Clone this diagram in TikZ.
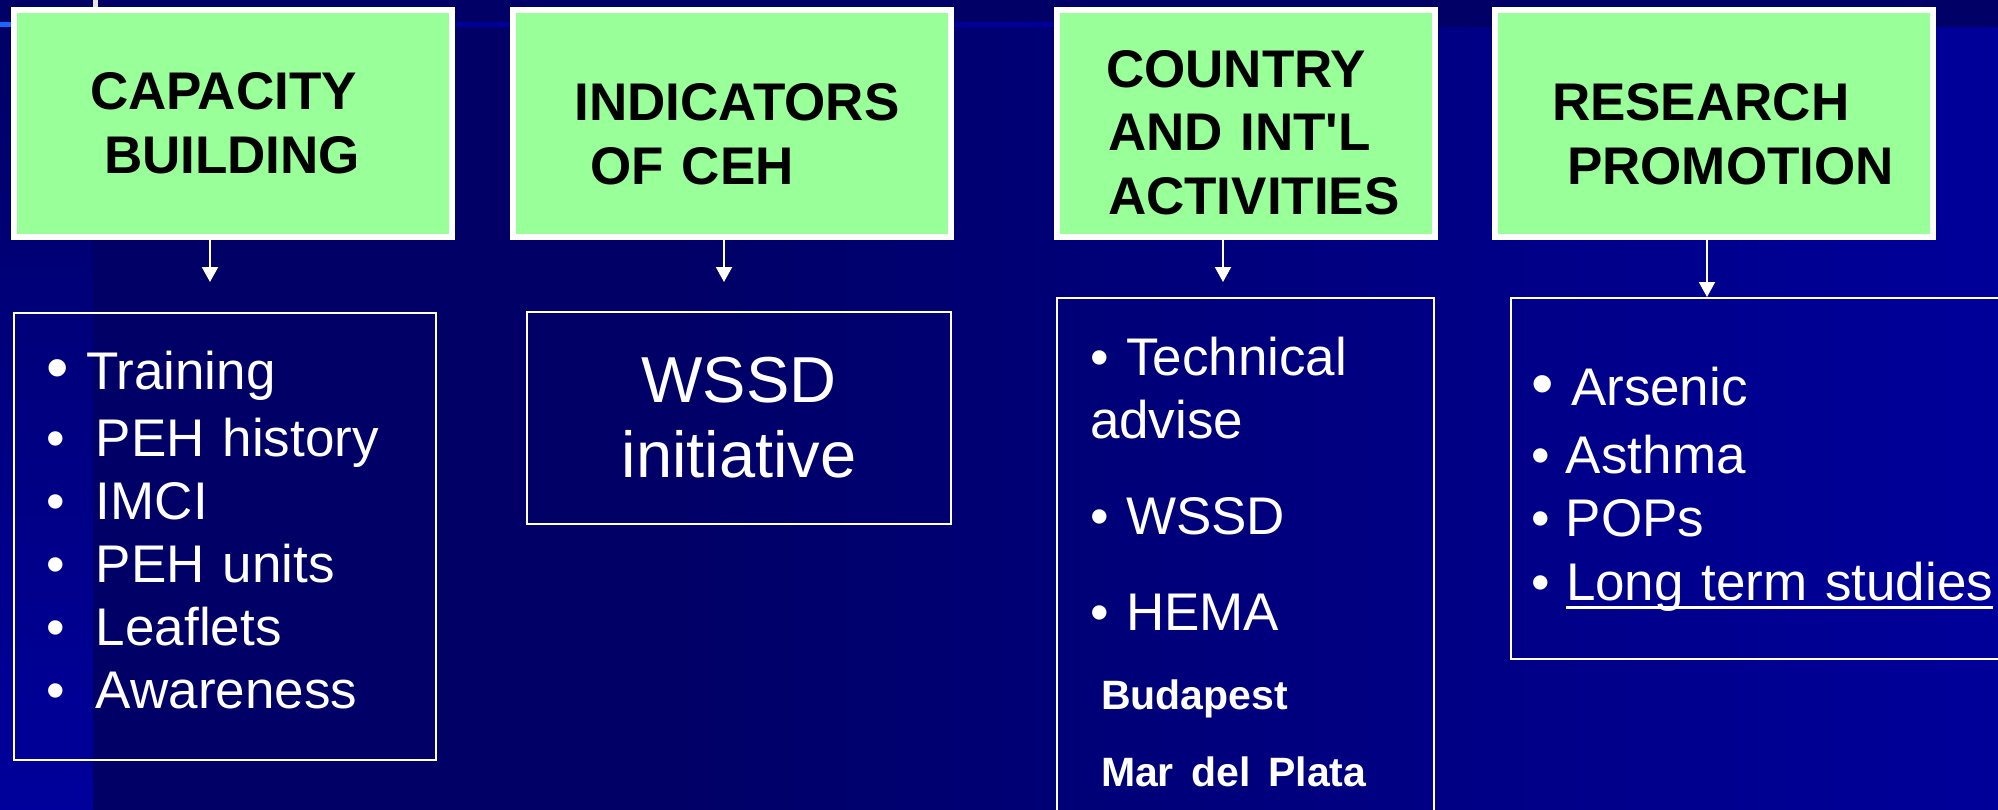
\documentclass[tikz,border=0pt]{standalone}
\usepackage{fontspec}
\setmainfont{Liberation Sans}
\usetikzlibrary{arrows.meta}

\definecolor{bgnavy}{HTML}{000066}
\definecolor{bandblue}{HTML}{00009C}
\definecolor{rightblue}{HTML}{00009A}
\definecolor{lineblue}{HTML}{000099}
\definecolor{brightblue}{HTML}{1A66FF}
\definecolor{tickgrey}{HTML}{E6E6D8}
\definecolor{headgreen}{HTML}{99FF99}

\newcommand\headfont{\fontsize{53}{63.5}\selectfont\bfseries}
\newcommand\listfont{\fontsize{53}{63}\selectfont}
\newcommand\cityfont{\fontsize{41}{63}\selectfont\bfseries}
\newcommand\bigbul{{\fontsize{64}{63}\selectfont •}}
\newcommand\bul[1][50pt]{\makebox[#1][l]{•}}
\newcommand\topgap[1]{\rule{0pt}{#1}}
\newcommand\botgap[1]{\rule[-#1]{0pt}{#1}}
\newcommand\ulbox[1]{\setbox0\hbox{#1}\rlap{\rule[-8.5pt]{\wd0}{3pt}}\box0}

\begin{document}
\begin{tikzpicture}[
  x=1pt, y=-1pt,
  head/.style={draw=white, line width=6pt, fill=headgreen, text=black,
               font=\headfont, align=left, inner xsep=0pt,
               minimum width=#1, text width=#1, minimum height=227pt},
  head/.default=438pt,
  frame/.style={draw=white, line width=2pt, text=white, font=\listfont,
                inner sep=0pt},
  link/.style={-{Triangle[width=16pt,length=15pt]}, draw=white, line width=2pt},
]
  \useasboundingbox (0,0) rectangle (1998,809);

  % slide background
  \fill[bgnavy] (-5,-5) rectangle (2005,815);
  \shade[left color=bgnavy, right color=rightblue] (650,27) rectangle (2005,815);
  \shade[top color=bgnavy, bottom color=bandblue] (-5,27) rectangle (93,815);
  \fill[lineblue] (-5,22) rectangle (1054,27);
  \fill[brightblue] (-5,22) rectangle (12,27);
  \fill[tickgrey] (93,-5) rectangle (98,8);

  % headings
  \node[head] (cap) at (233,123.5)
    {\hspace*{76pt}CAPACITY\\\hspace*{90pt}BUILDING};
  \node[head] (ind) at (731.5,123.5)
    {\topgap{59pt}\hspace*{62pt}INDICATORS\\\hspace*{78pt}OF CEH};
  \node[head=378pt] (act) at (1246,123.5)
    {\topgap{55pt}\hspace*{49pt}COUNTRY\\\hspace*{51pt}AND INT\textquotesingle L\\\hspace*{51pt}ACTIVITIES};
  \node[head] (res) at (1714,123.5)
    {\topgap{59pt}\hspace*{57pt}RESEARCH\\\hspace*{72pt}PROMOTION};

  % contents
  \node[frame, minimum width=422pt, minimum height=447pt, text width=358pt,
        align=left] (capl) at (225,536.5)
    {\makebox[40pt][l]{\bigbul}Training\\[4pt]
     \bul PEH history\\
     \bul IMCI\\
     \bul PEH units\\
     \bul Leaflets\\
     \bul Awareness\botgap{14pt}};

  \node[frame, minimum width=424pt, minimum height=212pt, align=center,
        font=\fontsize{65}{75}\selectfont] (indl) at (739,418)
    {WSSD\\initiative};

  \node[frame, minimum width=377pt, minimum height=527pt, text width=311pt,
        align=left] (actl) at (1245.5,561.5)
    {• Technical\\
     advise\\[33pt]
     • WSSD\\[33pt]
     • HEMA\\[16pt]
     \hspace*{11pt}{\cityfont Budapest}\\[14pt]
     \hspace*{11pt}{\cityfont Mar del Plata}};

  \node[frame, minimum width=518pt, minimum height=361pt, text width=478pt,
        align=left] (resl) at (1770,478.5)
    {\topgap{59pt}\makebox[40pt][l]{\bigbul}Arsenic\\[5pt]
     \bul[35pt]Asthma\\
     \bul[35pt]POPs\\[1pt]
     \bul[35pt]\ulbox{Long term studies}};

  % arrows
  \coordinate (capend) at (210,282);
  \coordinate (indend) at (724,282);
  \coordinate (actend) at (1223,282);
  \coordinate (resx) at (1707,0);
  \draw[link] (cap.south -| capend) -- (capend);
  \draw[link] (ind.south -| indend) -- (indend);
  \draw[link] (act.south -| actend) -- (actend);
  \draw[link] (res.south -| resx) -- (resl.north -| resx);
\end{tikzpicture}
\end{document}
